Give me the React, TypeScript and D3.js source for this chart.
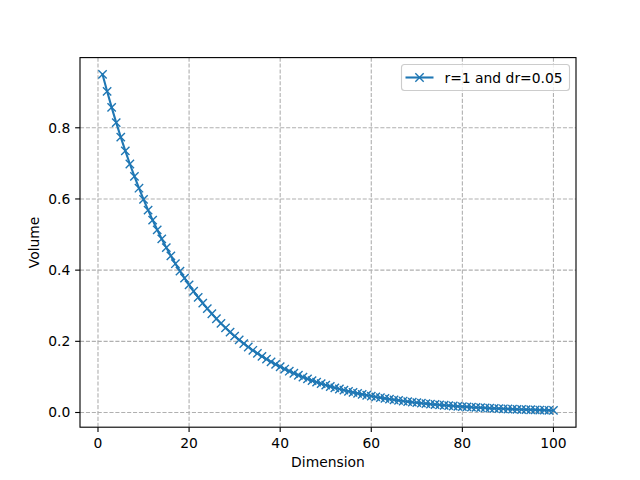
import React from "react";
import * as d3 from "d3";

const dimensions: number[] = Array.from({ length: 100 }, (_, i) => i + 1);
const volumes: number[] = [
  0.95, 0.9025, 0.8574, 0.8145, 0.7738, 0.7351, 0.6983, 0.6634, 0.6302, 0.5987,
  0.5688, 0.5404, 0.5133, 0.4877, 0.4633, 0.4401, 0.4181, 0.3972, 0.3774, 0.3585,
  0.3406, 0.3235, 0.3074, 0.292, 0.2774, 0.2635, 0.2503, 0.2378, 0.2259, 0.2146,
  0.2039, 0.1937, 0.184, 0.1748, 0.1661, 0.1578, 0.1499, 0.1424, 0.1353, 0.1285,
  0.1221, 0.116, 0.1102, 0.1047, 0.0994, 0.0945, 0.0897, 0.0853, 0.081, 0.0769,
  0.0731, 0.0694, 0.066, 0.0627, 0.0595, 0.0566, 0.0537, 0.051, 0.0485, 0.0461,
  0.0438, 0.0416, 0.0395, 0.0375, 0.0356, 0.0339, 0.0322, 0.0306, 0.029, 0.0276,
  0.0262, 0.0249, 0.0236, 0.0225, 0.0213, 0.0203, 0.0193, 0.0183, 0.0174, 0.0165,
  0.0157, 0.0149, 0.0142, 0.0135, 0.0128, 0.0121, 0.0115, 0.011, 0.0104, 0.0099,
  0.0094, 0.0089, 0.0085, 0.0081, 0.0077, 0.0073, 0.0069, 0.0066, 0.0062, 0.0059,
];
const xTicks: number[] = [0, 20, 40, 60, 80, 100];
const yTicks: number[] = [0.0, 0.2, 0.4, 0.6, 0.8];
const legendLabel = "r=1 and dr=0.05";
const xLabel = "Dimension";
const yLabel = "Volume";

const W = 640, H = 480;
const L = 80, R = 576, T = 57.6, B = 427.2;
const color = "#1f77b4";
const font = "DejaVu Sans, sans-serif";
const pt = 100 / 72;

export default function App() {
  const xmin = d3.min(dimensions)!, xmax = d3.max(dimensions)!;
  const ymin = d3.min(volumes)!, ymax = d3.max(volumes)!;
  const xm = (xmax - xmin) * 0.05, ym = (ymax - ymin) * 0.05;
  const x = d3.scaleLinear().domain([xmin - xm, xmax + xm]).range([L, R]);
  const y = d3.scaleLinear().domain([ymin - ym, ymax + ym]).range([B, T]);
  const pts = dimensions.map((d, i) => [x(d), y(volumes[i])] as [number, number]);
  const line = d3.line()(pts)!;
  const ms = 3 * pt;
  const marker = (cx: number, cy: number, k: number) => (
    <path
      key={k}
      d={`M${cx - ms},${cy - ms}L${cx + ms},${cy + ms}M${cx - ms},${cy + ms}L${cx + ms},${cy - ms}`}
      stroke={color}
      strokeWidth={1 * pt}
      fill="none"
    />
  );
  const fs = 10 * pt;
  const tl = 3.5 * pt;
  const dash = `${2.96 * pt},${1.28 * pt}`;
  const lgR = 569.5, lgT = 64.5, lgW = 168, lgH = 26;
  return (
    <svg width={W} height={H} style={{ position: "absolute", left: 0, top: 0, background: "white" }} fontFamily={font}>
      <rect x={0} y={0} width={W} height={H} fill="white" />
      {xTicks.map((t) => (
        <line key={"gx" + t} x1={x(t)} x2={x(t)} y1={T} y2={B} stroke="#b0b0b0" strokeWidth={0.8 * pt} strokeDasharray={dash} />
      ))}
      {yTicks.map((t) => (
        <line key={"gy" + t} x1={L} x2={R} y1={y(t)} y2={y(t)} stroke="#b0b0b0" strokeWidth={0.8 * pt} strokeDasharray={dash} />
      ))}
      <path d={line} fill="none" stroke={color} strokeWidth={1.5 * pt} strokeLinejoin="round" strokeLinecap="square" />
      {pts.map((p, i) => marker(p[0], p[1], i))}
      <rect x={L} y={T} width={R - L} height={B - T} fill="none" stroke="black" strokeWidth={0.8 * pt} />
      {xTicks.map((t) => (
        <g key={"tx" + t}>
          <line x1={x(t)} x2={x(t)} y1={B} y2={B + tl} stroke="black" strokeWidth={0.8 * pt} />
          <text x={x(t)} y={B + 2 * tl} dy="0.78em" textAnchor="middle" fontSize={fs} fill="black">{t}</text>
        </g>
      ))}
      {yTicks.map((t) => (
        <g key={"ty" + t}>
          <line x1={L - tl} x2={L} y1={y(t)} y2={y(t)} stroke="black" strokeWidth={0.8 * pt} />
          <text x={L - 2 * tl} y={y(t)} dy="0.36em" textAnchor="end" fontSize={fs} fill="black">{t.toFixed(1)}</text>
        </g>
      ))}
      <text x={(L + R) / 2} y={467} textAnchor="middle" fontSize={fs} fill="black">{xLabel}</text>
      <text transform={`translate(39,${(T + B) / 2}) rotate(-90)`} textAnchor="middle" fontSize={fs} fill="black">{yLabel}</text>
      <rect x={lgR - lgW} y={lgT} width={lgW} height={lgH} rx={3} fill="white" fillOpacity={0.8} stroke="#cccccc" strokeWidth={0.8 * pt} />
      <line x1={lgR - lgW + 4} x2={lgR - lgW + 32} y1={lgT + lgH / 2} y2={lgT + lgH / 2} stroke={color} strokeWidth={1.5 * pt} />
      {marker(lgR - lgW + 18, lgT + lgH / 2, -1)}
      <text x={lgR - lgW + 43} y={lgT + lgH / 2} dy="0.36em" fontSize={fs} fill="black">{legendLabel}</text>
    </svg>
  );
}
